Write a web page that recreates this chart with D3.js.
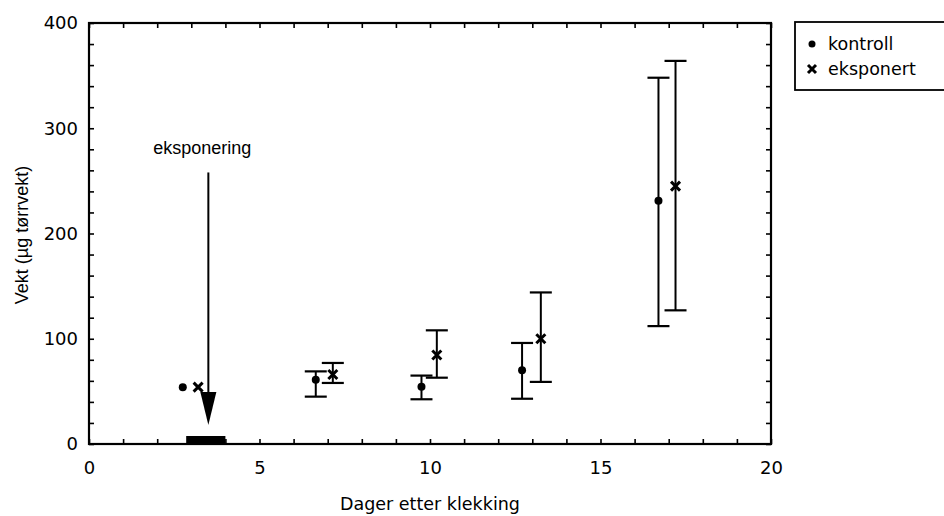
<!DOCTYPE html>
<html>
<head>
<meta charset="utf-8">
<script src="https://cdn.jsdelivr.net/npm/d3@7"></script>
<style>
  html, body { margin: 0; padding: 0; background: #fff; overflow: hidden; }
  svg { display: block; }
  .axis text { font-family: "DejaVu Sans", sans-serif; font-size: 18px; fill: #000; }
  .axis line { stroke: #000; stroke-width: 1.6; }
  .axis path { display: none; }
</style>
</head>
<body>
<div id="chart"></div>
<script>
// Values
const controlDays  = [2.75, 6.65, 9.75, 12.7, 16.7];
const controlMean  = [54, 61, 54.5, 70, 231];
const controlLow   = [null, 45, 42.5, 43, 112];
const controlHigh  = [null, 69, 65, 96, 348];

const exposedDays  = [3.2, 7.15, 10.2, 13.25, 17.2];
const exposedMean  = [54, 66, 84.5, 100, 245];
const exposedLow   = [null, 58, 63, 59, 127];
const exposedHigh  = [null, 77, 108, 144, 364];

const xTicks = [0, 5, 10, 15, 20];
const yTicks = [0, 100, 200, 300, 400];

// exposure period + arrow (days / µg)
const exposureSpan = [2.85, 4.0];
const arrowDay = 3.5;
const arrowFrom = 258;
const arrowTo = 18;

const legendLabels = ['kontroll', 'eksponert'];

const width = 944, height = 516;
const margin = { top: 23, right: 173, bottom: 72, left: 89 };
const innerWidth = width - margin.left - margin.right;
const innerHeight = height - margin.top - margin.bottom;

const svg = d3.select('#chart').append('svg')
    .attr('width', width)
    .attr('height', height);

const g = svg.append('g')
    .attr('transform', `translate(${margin.left},${margin.top})`);

const x = d3.scaleLinear().domain([0, 20]).range([0, innerWidth]);
const y = d3.scaleLinear().domain([0, 400]).range([innerHeight, 0]);

// Axes, ticks pointing inward on all four sides
g.append('g')
    .attr('class', 'axis')
    .attr('transform', `translate(0,${innerHeight})`)
    .call(d3.axisBottom(x)
        .tickValues(d3.range(0, 21, 1))
        .tickSize(-5)
        .tickPadding(17)
        .tickFormat(d => xTicks.includes(d) ? d : ''));

g.append('g')
    .attr('class', 'axis')
    .call(d3.axisTop(x)
        .tickValues(d3.range(0, 21, 1))
        .tickSize(-5)
        .tickFormat(''));

g.append('g')
    .attr('class', 'axis')
    .call(d3.axisLeft(y)
        .tickValues(d3.range(0, 401, 20))
        .tickSize(-5)
        .tickPadding(11)
        .tickFormat(d => yTicks.includes(d) ? d : ''));

g.append('g')
    .attr('class', 'axis')
    .attr('transform', `translate(${innerWidth},0)`)
    .call(d3.axisRight(y)
        .tickValues(d3.range(0, 401, 20))
        .tickSize(-5)
        .tickFormat(''));

// drop the empty labels of the minor ticks
g.selectAll('.axis text').filter(function () { return this.textContent === ''; }).remove();

// Frame
g.append('rect')
    .attr('width', innerWidth)
    .attr('height', innerHeight)
    .attr('fill', 'none')
    .attr('stroke', '#000')
    .attr('stroke-width', 2.2);

// Axis titles
svg.append('text')
    .attr('x', margin.left + innerWidth / 2)
    .attr('y', 510)
    .attr('text-anchor', 'middle')
    .attr('font-family', 'DejaVu Sans, sans-serif')
    .attr('font-size', 17.5)
    .text('Dager etter klekking');

svg.append('text')
    .attr('transform', 'rotate(-90)')
    .attr('x', -235)
    .attr('y', 28)
    .attr('text-anchor', 'middle')
    .attr('font-family', 'Liberation Sans, Arial, sans-serif')
    .attr('font-size', 18)
    .text('Vekt (µg tørrvekt)');

// Exposure bar on the x axis
g.append('rect')
    .attr('x', x(exposureSpan[0]))
    .attr('y', innerHeight - 8)
    .attr('width', x(exposureSpan[1]) - x(exposureSpan[0]))
    .attr('height', 8)
    .attr('fill', '#000');

// Arrow
const headLen = 33, headHalf = 8;
g.append('line')
    .attr('x1', x(arrowDay))
    .attr('x2', x(arrowDay))
    .attr('y1', y(arrowFrom))
    .attr('y2', y(arrowTo) - headLen + 2)
    .attr('stroke', '#000')
    .attr('stroke-width', 2);

g.append('path')
    .attr('d', `M${x(arrowDay) - headHalf},${y(arrowTo) - headLen} L${x(arrowDay) + headHalf},${y(arrowTo) - headLen} L${x(arrowDay)},${y(arrowTo)} Z`)
    .attr('fill', '#000');

g.append('text')
    .attr('x', x(arrowDay) - 6)
    .attr('y', y(arrowFrom) - 18)
    .attr('text-anchor', 'middle')
    .attr('font-family', 'Liberation Sans, Arial, sans-serif')
    .attr('font-size', 18)
    .text('eksponering');

// Error bars
const capHalf = 11;
function drawErrors(days, low, high) {
    days.forEach((d, i) => {
        if (low[i] == null) return;
        const cx = x(d);
        g.append('line')
            .attr('x1', cx).attr('x2', cx)
            .attr('y1', y(low[i])).attr('y2', y(high[i]))
            .attr('stroke', '#000').attr('stroke-width', 2);
        [low[i], high[i]].forEach(v => {
            g.append('line')
                .attr('x1', cx - capHalf).attr('x2', cx + capHalf)
                .attr('y1', y(v)).attr('y2', y(v))
                .attr('stroke', '#000').attr('stroke-width', 2.2);
        });
    });
}
drawErrors(controlDays, controlLow, controlHigh);
drawErrors(exposedDays, exposedLow, exposedHigh);

// Markers
function crossPath(cx, cy, s) {
    return `M${cx - s},${cy - s}L${cx + s},${cy + s}M${cx - s},${cy + s}L${cx + s},${cy - s}`;
}

g.selectAll('.dot')
    .data(controlDays)
    .join('circle')
    .attr('class', 'dot')
    .attr('cx', d => x(d))
    .attr('cy', (d, i) => y(controlMean[i]))
    .attr('r', 4)
    .attr('fill', '#000');

g.selectAll('.cross')
    .data(exposedDays)
    .join('path')
    .attr('class', 'cross')
    .attr('d', (d, i) => crossPath(x(d), y(exposedMean[i]), 4.5))
    .attr('stroke', '#000')
    .attr('stroke-width', 3)
    .attr('fill', 'none');

// Legend (box runs off the right edge, as in the scan)
const legend = svg.append('g');
legend.append('rect')
    .attr('x', 795)
    .attr('y', 22)
    .attr('width', 160)
    .attr('height', 68)
    .attr('fill', 'none')
    .attr('stroke', '#000')
    .attr('stroke-width', 1.8);

legend.append('circle')
    .attr('cx', 812).attr('cy', 44)
    .attr('r', 3.5).attr('fill', '#000');

legend.append('path')
    .attr('d', crossPath(812, 69, 4))
    .attr('stroke', '#000').attr('stroke-width', 3).attr('fill', 'none');

legend.selectAll('text')
    .data(legendLabels)
    .join('text')
    .attr('x', 828)
    .attr('y', (d, i) => 50 + i * 25)
    .attr('font-family', 'DejaVu Sans, sans-serif')
    .attr('font-size', 17.5)
    .text(d => d);
</script>
</body>
</html>
